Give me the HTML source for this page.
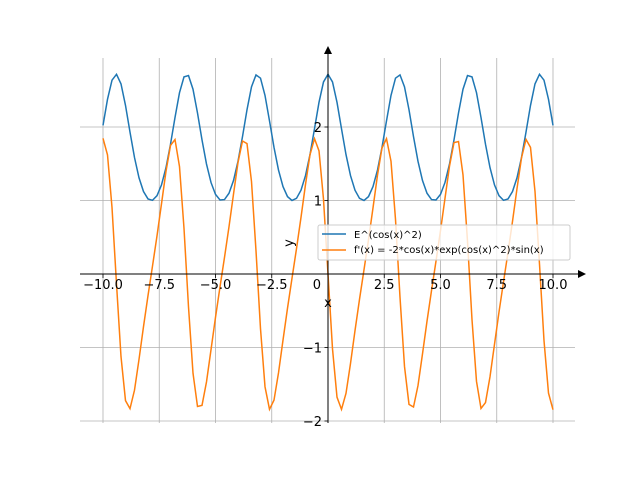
<!DOCTYPE html>
<html><head><meta charset="utf-8"><style>
body{margin:0;background:#fff;width:640px;height:480px;overflow:hidden}
svg{font-family:"DejaVu Sans","Liberation Sans",sans-serif}
</style></head><body>
<svg id="s" width="640" height="480" xmlns="http://www.w3.org/2000/svg">
<g stroke="#b0b0b0" stroke-width="0.8" id="grid"></g>
<path id="p1" fill="none" stroke="#1f77b4" stroke-width="1.5"/>
<path id="p2" fill="none" stroke="#ff7f0e" stroke-width="1.5"/>
<line x1="80" y1="274" x2="580" y2="274" stroke="#000" stroke-width="1"/>
<polygon points="586,274 578,270 578,278" fill="#000"/>
<line x1="328" y1="423" x2="328" y2="52" stroke="#000" stroke-width="1"/>
<polygon points="328,46 324,54 332,54" fill="#000"/>
<g id="ticks" stroke="#000" stroke-width="0.8"></g>
<g id="lbl" font-size="13" fill="#000"></g>
<text x="328" y="307" font-size="13" text-anchor="middle">x</text>
<text x="293" y="243" font-size="13" text-anchor="middle" transform="rotate(-90 293 243)">y</text>
<g>
<rect x="318" y="225" width="252" height="35" fill="#fff" fill-opacity="0.8" stroke="#ccc" stroke-width="1" rx="2"/>
<line x1="322" y1="234" x2="346" y2="234" stroke="#1f77b4" stroke-width="1.5"/>
<line x1="322" y1="250" x2="346" y2="250" stroke="#ff7f0e" stroke-width="1.5"/>
<text x="354" y="238" font-size="10">E^(cos(x)^2)</text>
<text x="354" y="253" font-size="10">f'(x) = -2*cos(x)*exp(cos(x)^2)*sin(x)</text>
</g>
</svg>
<script>
var X=function(x){return 328+22.5*x},Y=function(y){return 274-73.5*y};
var ns="http://www.w3.org/2000/svg";
function el(p,t,a,txt){var e=document.createElementNS(ns,t);for(var k in a)e.setAttribute(k,a[k]);if(txt!=null)e.textContent=txt;document.getElementById(p).appendChild(e);}
var xs=[-10,-7.5,-5,-2.5,0,2.5,5,7.5,10];
xs.forEach(function(v){var px=X(v);el("grid","line",{x1:px,y1:58,x2:px,y2:423});el("ticks","line",{x1:px,y1:274,x2:px,y2:278});
if(v!==0)el("lbl","text",{x:px,y:289,"text-anchor":"middle"},(v<0?"\u2212":"")+Math.abs(v).toFixed(1));});
el("lbl","text",{x:321,y:289,"text-anchor":"end"},"0");
[-2,-1,1,2].forEach(function(v){var py=Y(v);el("grid","line",{x1:80,y1:py,x2:575,y2:py});el("ticks","line",{x1:324.5,y1:py,x2:328,y2:py});
el("lbl","text",{x:322,y:py+5,"text-anchor":"end"},(v<0?"\u2212":"")+Math.abs(v));});
var d1="",d2="",N=100;
for(var i=0;i<=N;i++){var x=-10+20*i/N,c=Math.cos(x),e=Math.exp(c*c);
d1+=(i?"L":"M")+X(x).toFixed(2)+","+Y(e).toFixed(2);
d2+=(i?"L":"M")+X(x).toFixed(2)+","+Y(-2*c*e*Math.sin(x)).toFixed(2);}
document.getElementById("p1").setAttribute("d",d1);
document.getElementById("p2").setAttribute("d",d2);
</script>
</body></html>
